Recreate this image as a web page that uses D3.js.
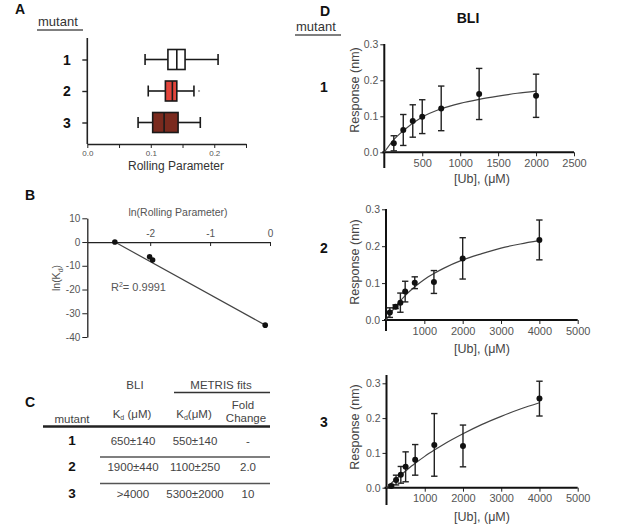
<!DOCTYPE html>
<html>
<head>
<meta charset="utf-8">
<script src="https://cdn.jsdelivr.net/npm/d3@7"></script>
<style>
  body { margin: 0; background: #fff; }
  text { font-family: 'Liberation Sans', Arial, sans-serif; }
</style>
</head>
<body>
<script>
// ---- data ----
let mutants = ['1', '2', '3'];

// A: rolling parameter box plots
let rpMin = [0.091, 0.096, 0.080];
let rpQ1 = [0.127, 0.123, 0.103];
let rpMed = [0.141, 0.134, 0.121];
let rpQ3 = [0.154, 0.141, 0.143];
let rpMax = [0.206, 0.168, 0.178];
let rpOutlierMutant = ['2'];
let rpOutlierValue = [0.176];
let rpTicks = [0, 0.05, 0.1, 0.15, 0.2, 0.25];
let rpTickLabels = [0, 0.1, 0.2];

// B: ln(Kd) vs ln(rolling parameter)
let lnRP = [-2.59, -2.01, -1.96, -0.08];
let lnKd = [0, -6.2, -7.6, -35];
let fitLnRP = [-2.59, -0.08];
let fitLnKd = [0, -35];
let lnRPTicks = [-2, -1, 0];
let lnKdTicks = [-40, -30, -20, -10, 0, 10];

// C: table
let bliKd = ['650±140', '1900±440', '>4000'];
let metrisKd = ['550±140', '1100±250', '5300±2000'];
let foldChange = ['-', '2.0', '10'];

// D: BLI binding curves
let ub1 = [125, 250, 375, 500, 750, 1250, 2000];
let resp1 = [0.025, 0.062, 0.087, 0.099, 0.122, 0.162, 0.157];
let err1 = [0.021, 0.043, 0.045, 0.047, 0.062, 0.071, 0.060];
let fitUb1 = [0, 125, 250, 500, 750, 1000, 1250, 1500, 1750, 2000];
let fitResp1 = [0, 0.035, 0.06, 0.098, 0.121, 0.136, 0.147, 0.156, 0.164, 0.170];

let ub2 = [100, 250, 375, 500, 750, 1250, 2000, 4000];
let resp2 = [0.020, 0.036, 0.047, 0.077, 0.101, 0.103, 0.167, 0.217];
let err2 = [0.013, 0.005, 0.026, 0.028, 0.016, 0.031, 0.056, 0.054];
let fitUb2 = [0, 250, 500, 750, 1000, 1250, 1500, 2000, 2500, 3000, 3500, 4000];
let fitResp2 = [0, 0.037, 0.066, 0.090, 0.110, 0.126, 0.140, 0.163, 0.180, 0.195, 0.206, 0.215];

let ub3 = [125, 250, 375, 500, 750, 1250, 2000, 4000];
let resp3 = [0.005, 0.022, 0.037, 0.060, 0.080, 0.123, 0.120, 0.256];
let err3 = [0.004, 0.014, 0.024, 0.043, 0.044, 0.090, 0.060, 0.050];
let fitUb3 = [0, 250, 500, 750, 1000, 1250, 1500, 2000, 2500, 3000, 3500, 4000];
let fitResp3 = [0, 0.025, 0.048, 0.070, 0.090, 0.108, 0.125, 0.155, 0.182, 0.205, 0.226, 0.244];

let respTicks = [0, 0.1, 0.2, 0.3];

// ---- drawing ----
let svg = d3.select('body').append('svg')
    .attr('width', 617)
    .attr('height', 532);

svg.append('rect').attr('width', 617).attr('height', 532).attr('fill', '#fff');

let boxFills = ['#ffffff', '#e2443b', '#7a2a1e'];

let styleAxis = (g, size) => {
    g.selectAll('path, line').attr('stroke', '#222');
    g.selectAll('text')
        .attr('fill', '#555')
        .style('font-size', size + 'px')
        .style('font-family', "'Liberation Sans', Arial, sans-serif");
};

let panelLabel = (txt, x, y) => {
    svg.append('text').attr('x', x).attr('y', y)
        .attr('font-weight', 'bold').attr('font-size', 14).attr('fill', '#111')
        .text(txt);
};

let mutantHeader = (x, y, w) => {
    svg.append('text').attr('x', x).attr('y', y)
        .attr('font-size', 13).attr('fill', '#333').text('mutant');
    svg.append('line').attr('x1', x - 1).attr('x2', x + w).attr('y1', y + 4).attr('y2', y + 4)
        .attr('stroke', '#555').attr('stroke-width', 1.3);
};

// ---------- Panel A ----------
panelLabel('A', 15, 14);
mutantHeader(38, 26, 45);

let xA = d3.scaleLinear().domain([0, 0.25]).range([87.3, 246]);
let yA = d3.scalePoint().domain(mutants).range([59.5, 122.5]);

let gA = svg.append('g');
gA.append('g')
    .attr('transform', 'translate(0,144)')
    .call(d3.axisBottom(xA).tickValues(rpTicks).tickSize(4).tickSizeOuter(0).tickPadding(2)
        .tickFormat(d3.format('.1f')))
    .call(g => styleAxis(g, 8))
    .call(g => g.selectAll('.tick text').filter(d => !rpTickLabels.some(t => Math.abs(t - d) < 1e-9)).remove());
gA.selectAll('.domain').attr('stroke-width', 1.6);

gA.append('g')
    .attr('transform', 'translate(87.3,0)')
    .call(d3.axisLeft(yA).tickSize(5).tickFormat(''))
    .call(g => g.select('.domain').remove())
    .call(g => g.selectAll('text').remove())
    .call(g => g.selectAll('line').attr('stroke', '#222').attr('stroke-width', 1.4));
gA.append('line').attr('x1', 87.3).attr('x2', 87.3).attr('y1', 38).attr('y2', 144)
    .attr('stroke', '#222').attr('stroke-width', 1.6);

mutants.forEach((m, i) => {
    let cy = yA(m);
    svg.append('text').attr('x', 67).attr('y', cy + 5).attr('text-anchor', 'middle')
        .attr('font-weight', 900).attr('font-size', 14).attr('fill', '#111').text(m);
    let g = gA.append('g').attr('stroke', '#1a1a1a').attr('stroke-width', 1.6);
    g.append('line').attr('x1', xA(rpMin[i])).attr('x2', xA(rpQ1[i])).attr('y1', cy).attr('y2', cy);
    g.append('line').attr('x1', xA(rpQ3[i])).attr('x2', xA(rpMax[i])).attr('y1', cy).attr('y2', cy);
    g.append('line').attr('x1', xA(rpMin[i])).attr('x2', xA(rpMin[i])).attr('y1', cy - 5.5).attr('y2', cy + 5.5);
    g.append('line').attr('x1', xA(rpMax[i])).attr('x2', xA(rpMax[i])).attr('y1', cy - 5.5).attr('y2', cy + 5.5);
    g.append('rect').attr('x', xA(rpQ1[i])).attr('width', xA(rpQ3[i]) - xA(rpQ1[i]))
        .attr('y', cy - 10).attr('height', 20).attr('fill', boxFills[i]);
    g.append('line').attr('x1', xA(rpMed[i])).attr('x2', xA(rpMed[i])).attr('y1', cy - 10).attr('y2', cy + 10);
});
rpOutlierMutant.forEach((m, i) => {
    gA.append('circle').attr('cx', xA(rpOutlierValue[i])).attr('cy', yA(m)).attr('r', 1.1).attr('fill', '#999');
});
svg.append('text').attr('x', 176).attr('y', 169.5).attr('text-anchor', 'middle')
    .attr('font-size', 12).attr('fill', '#333').text('Rolling Parameter');

// ---------- Panel B ----------
panelLabel('B', 25, 200);
let xB = d3.scaleLinear().domain([-3.05, 0]).range([87.3, 270]);
let yB = d3.scaleLinear().domain([-40, 10]).range([337, 218.3]);
let gB = svg.append('g');
gB.append('g')
    .attr('transform', `translate(0,${yB(0)})`)
    .call(d3.axisTop(xB).tickValues(lnRPTicks).tickSizeInner(-4).tickSizeOuter(0).tickPadding(5).tickFormat(d => String(d)))
    .call(g => styleAxis(g, 10));
gB.append('g')
    .attr('transform', `translate(${xB(-3.05)},0)`)
    .call(d3.axisLeft(yB).tickValues(lnKdTicks).tickSize(5).tickSizeOuter(0).tickPadding(2).tickFormat(d => String(d)))
    .call(g => styleAxis(g, 10));
gB.selectAll('.domain').attr('stroke-width', 1.3);

gB.append('path')
    .datum(fitLnRP.map((x, i) => [x, fitLnKd[i]]))
    .attr('fill', 'none').attr('stroke', '#444').attr('stroke-width', 1.2)
    .attr('d', d3.line().x(d => xB(d[0])).y(d => yB(d[1])));
gB.selectAll('circle.pt').data(lnRP).enter().append('circle')
    .attr('class', 'pt')
    .attr('cx', d => xB(d)).attr('cy', (d, i) => yB(lnKd[i])).attr('r', 2.8).attr('fill', '#111');

svg.append('text').attr('x', 178).attr('y', 216).attr('text-anchor', 'middle')
    .attr('font-size', 10.5).attr('fill', '#555').text('ln(Rolling Parameter)');
let kdLab = svg.append('text').attr('transform', 'translate(60,278) rotate(-90)')
    .attr('text-anchor', 'middle').attr('font-size', 10.5).attr('fill', '#555');
kdLab.append('tspan').text('ln(K');
kdLab.append('tspan').attr('font-size', 7).attr('dy', 3).text('d');
kdLab.append('tspan').attr('dy', -3).text(')');
let r2 = svg.append('text').attr('x', 111).attr('y', 291).attr('font-size', 11).attr('fill', '#555');
r2.append('tspan').text('R');
r2.append('tspan').attr('font-size', 7).attr('dy', -4).text('2');
r2.append('tspan').attr('dy', 4).text('= 0.9991');

// ---------- Panel C ----------
panelLabel('C', 25, 407);
let hdr = (txt, x, y) => svg.append('text').attr('x', x).attr('y', y).attr('text-anchor', 'middle')
    .attr('font-size', 11.5).attr('fill', '#444').text(txt);
hdr('BLI', 135, 389);
hdr('METRIS fits', 221, 389);
svg.append('line').attr('x1', 174).attr('x2', 270).attr('y1', 392.5).attr('y2', 392.5)
    .attr('stroke', '#333').attr('stroke-width', 1.6);
hdr('mutant', 72, 423);
[[132, 'K', ' (μM)'], [194, 'K', '(μM)']].forEach(h => {
    let t = svg.append('text').attr('x', h[0]).attr('y', 418).attr('text-anchor', 'middle')
        .attr('font-size', 11.5).attr('fill', '#444');
    t.append('tspan').text(h[1]);
    t.append('tspan').attr('font-size', 7).attr('dy', 2).text('d');
    t.append('tspan').attr('dy', -2).text(h[2]);
});
hdr('Fold', 243, 408.5);
hdr('Change', 246, 422);
svg.append('line').attr('x1', 43).attr('x2', 270).attr('y1', 426.5).attr('y2', 426.5)
    .attr('stroke', '#222').attr('stroke-width', 2.6);

let rowY = d3.scalePoint().domain(mutants).range([444.5, 497.5]);
mutants.forEach((m, i) => {
    let y = rowY(m);
    svg.append('text').attr('x', 72).attr('y', y).attr('text-anchor', 'middle')
        .attr('font-weight', 900).attr('font-size', 13.5).attr('fill', '#111').text(m);
    hdr(bliKd[i], 133, y);
    hdr(metrisKd[i], 195, y);
    hdr(foldChange[i], 248, y);
    if (i > 0) {
        svg.append('line').attr('x1', 100).attr('x2', 270).attr('y1', y - 14).attr('y2', y - 14)
            .attr('stroke', '#555').attr('stroke-width', 1.3);
    }
});

// ---------- Panel D ----------
panelLabel('D', 320, 16);
svg.append('text').attr('x', 468).attr('y', 23).attr('text-anchor', 'middle')
    .attr('font-weight', 'bold').attr('font-size', 14).attr('fill', '#111').text('BLI');
mutantHeader(296, 31, 45);

let drawBinding = (cfg, ub, resp, err, fitUb, fitResp) => {
    let x = d3.scaleLinear().domain([0, cfg.xMax]).range([cfg.left, cfg.right]);
    let y = d3.scaleLinear().domain([0, 0.3]).range([cfg.zero, cfg.top]);
    let g = svg.append('g');

    g.append('g')
        .attr('transform', `translate(0,${cfg.zero})`)
        .call(d3.axisBottom(x).tickValues(cfg.xTicks).tickSize(4).tickSizeOuter(0).tickPadding(3).tickFormat(d3.format('d')))
        .call(a => styleAxis(a, 11));
    g.append('g')
        .attr('transform', `translate(${cfg.left},0)`)
        .call(d3.axisLeft(y).tickValues(respTicks).tickSize(4).tickSizeOuter(0).tickPadding(2).tickFormat(d3.format('.1f')))
        .call(a => a.select('.domain').remove())
        .call(a => styleAxis(a, 10.5));
    g.append('line').attr('x1', cfg.left).attr('x2', cfg.left).attr('y1', cfg.axisTop).attr('y2', cfg.axisBottom)
        .attr('stroke', '#111').attr('stroke-width', 2);
    g.append('line').attr('x1', cfg.left - 2).attr('x2', cfg.right).attr('y1', cfg.zero).attr('y2', cfg.zero)
        .attr('stroke', '#111').attr('stroke-width', 2);
    g.selectAll('.domain').remove();

    // fitted curve
    g.append('path')
        .datum(fitUb.map((u, i) => [u, fitResp[i]]))
        .attr('fill', 'none').attr('stroke', '#444').attr('stroke-width', 1.2)
        .attr('d', d3.line().x(d => x(d[0])).y(d => y(d[1])).curve(d3.curveMonotoneX));

    // error bars and points
    let eb = g.append('g').attr('stroke', '#222').attr('stroke-width', 1.4);
    ub.forEach((u, i) => {
        let cx = x(u);
        let y1 = y(resp[i] + err[i]);
        let y2 = y(resp[i] - err[i]);
        eb.append('line').attr('x1', cx).attr('x2', cx).attr('y1', y1).attr('y2', y2);
        eb.append('line').attr('x1', cx - 3.2).attr('x2', cx + 3.2).attr('y1', y1).attr('y2', y1);
        eb.append('line').attr('x1', cx - 3.2).attr('x2', cx + 3.2).attr('y1', y2).attr('y2', y2);
    });
    g.selectAll('circle.pt').data(ub).enter().append('circle')
        .attr('class', 'pt')
        .attr('cx', d => x(d)).attr('cy', (d, i) => y(resp[i])).attr('r', 3).attr('fill', '#111');

    svg.append('text').attr('transform', `translate(359,${cfg.yLabelY}) rotate(-90)`)
        .attr('text-anchor', 'middle').attr('font-size', 12.5).attr('fill', '#444').text('Response (nm)');
    svg.append('text').attr('x', 482).attr('y', cfg.xLabelY).attr('text-anchor', 'middle')
        .attr('font-size', 12.5).attr('fill', '#444').text('[Ub], (μM)');
    svg.append('text').attr('x', 324).attr('y', cfg.rowY).attr('text-anchor', 'middle')
        .attr('font-weight', 900).attr('font-size', 14).attr('fill', '#111').text(cfg.label);
};

drawBinding({ label: '1', xMax: 2500, left: 384.3, right: 574, zero: 152.3, top: 44.3,
    axisTop: 44, axisBottom: 168, xTicks: [500, 1000, 1500, 2000, 2500],
    yLabelY: 90, xLabelY: 183, rowY: 92 }, ub1, resp1, err1, fitUb1, fitResp1);
drawBinding({ label: '2', xMax: 5000, left: 386, right: 577.7, zero: 320, top: 209.3,
    axisTop: 209, axisBottom: 331, xTicks: [1000, 2000, 3000, 4000, 5000],
    yLabelY: 262, xLabelY: 353, rowY: 253 }, ub2, resp2, err2, fitUb2, fitResp2);
drawBinding({ label: '3', xMax: 5000, left: 386.5, right: 577.7, zero: 487.7, top: 383.3,
    axisTop: 375, axisBottom: 505, xTicks: [1000, 2000, 3000, 4000, 5000],
    yLabelY: 427, xLabelY: 521, rowY: 427 }, ub3, resp3, err3, fitUb3, fitResp3);
</script>
</body>
</html>
